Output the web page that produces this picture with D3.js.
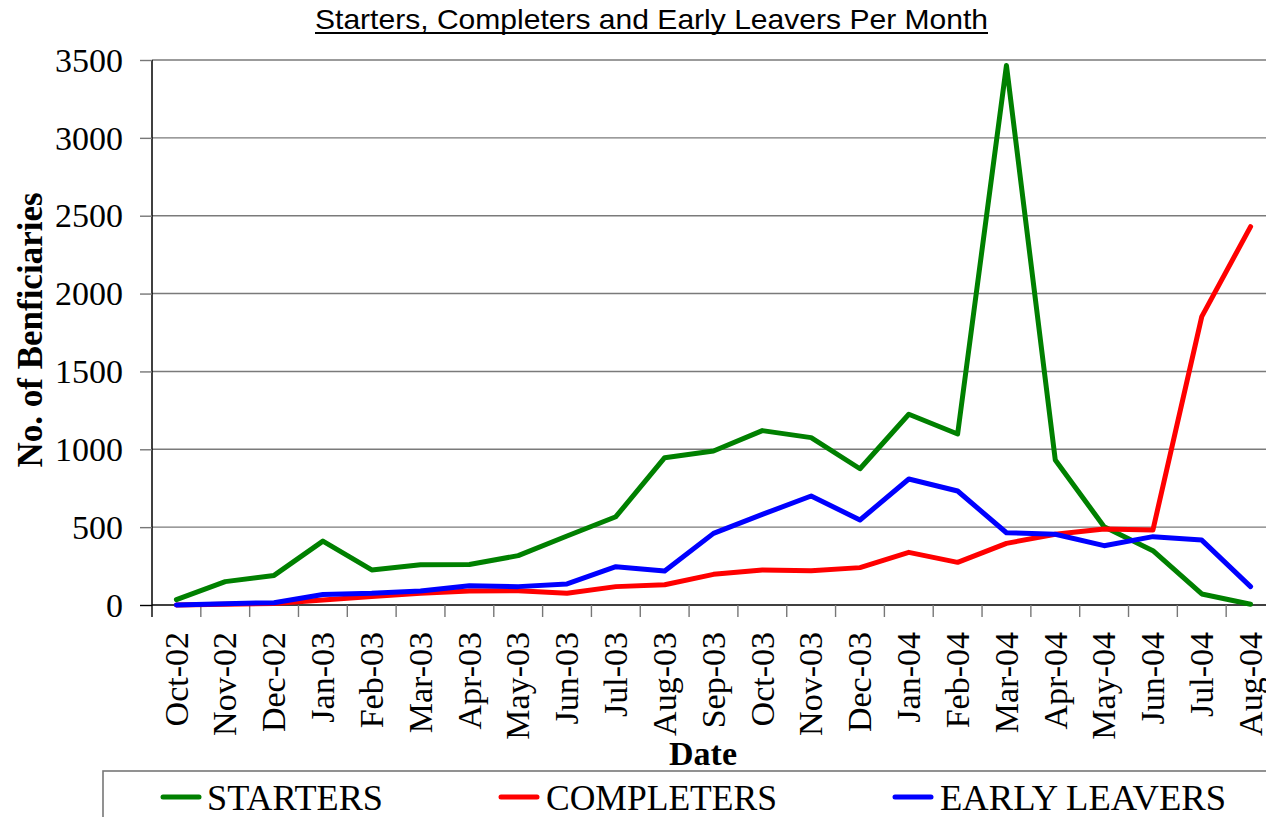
<!DOCTYPE html>
<html>
<head>
<meta charset="utf-8">
<script src="https://cdn.jsdelivr.net/npm/d3@7"></script>
<style>
  html, body { margin: 0; padding: 0; background: #fff; }
  svg { display: block; }
</style>
</head>
<body>
<svg id="chart" width="1266" height="817"></svg>
<script>
const categories = ["Oct-02","Nov-02","Dec-02","Jan-03","Feb-03","Mar-03","Apr-03","May-03","Jun-03","Jul-03","Aug-03","Sep-03","Oct-03","Nov-03","Dec-03","Jan-04","Feb-04","Mar-04","Apr-04","May-04","Jun-04","Jul-04","Aug-04"];
const starters    = [35, 150, 190, 410, 225, 258, 260, 317, 443, 567, 946, 989, 1120, 1075, 875, 1225, 1098, 3465, 931, 503, 349, 71, 5];
const completers  = [0, 5, 10, 32, 55, 75, 90, 92, 75, 118, 130, 197, 225, 220, 240, 338, 274, 396, 454, 488, 482, 1852, 2430];
const earlyLeavers= [0, 8, 15, 68, 75, 90, 124, 118, 135, 246, 218, 460, 582, 700, 546, 809, 732, 464, 454, 381, 439, 417, 118];
const yTicks = [0, 500, 1000, 1500, 2000, 2500, 3000, 3500];
const seriesNames = ["STARTERS", "COMPLETERS", "EARLY LEAVERS"];
const seriesColors = ["#008000", "#ff0000", "#0000ff"];
const titleText = "Starters, Completers and Early Leavers Per Month";
const yTitle = "No. of Benficiaries";
const xTitle = "Date";

const svg = d3.select("#chart");
const serif = "'Liberation Serif','Times New Roman',Times,serif";
const sans = "'Liberation Sans',Arial,Helvetica,sans-serif";

const pLeft = 152, pRight = 1275, pTop = 60, pBottom = 605;
const x = d3.scaleBand().domain(categories).range([pLeft, pRight]).paddingInner(0).paddingOuter(0);
const y = d3.scaleLinear().domain([0, 3500]).range([pBottom, pTop]);

// gridlines
svg.append("g").selectAll("line").data(yTicks.filter(d => d > 0)).join("line")
  .attr("x1", pLeft).attr("x2", 1266)
  .attr("y1", d => y(d)).attr("y2", d => y(d))
  .attr("stroke", "#7a7a7a").attr("stroke-width", 1.4);

// y axis
const yAxis = svg.append("g").attr("transform", `translate(${pLeft},0)`)
  .call(d3.axisLeft(y).tickValues(yTicks).tickSize(12).tickPadding(17).tickFormat(d3.format("d")));
yAxis.select(".domain").attr("stroke", "#000").attr("stroke-width", 1.5).attr("d", `M0,${pTop}V${pBottom}`);
yAxis.selectAll(".tick line").attr("stroke", "#777").attr("stroke-width", 1.4);
yAxis.selectAll(".tick").filter(d => d === 0).select("line").attr("stroke", "#000");
yAxis.selectAll("text").attr("font-family", serif).attr("font-size", 34).attr("fill", "#000").attr("dy", "0.33em");

// x axis line
svg.append("line").attr("x1", pLeft).attr("x2", 1266).attr("y1", pBottom).attr("y2", pBottom)
  .attr("stroke", "#000").attr("stroke-width", 1.5);
// boundary ticks
const bounds = categories.map(c => x(c)).concat([x.range()[1]]);
svg.append("g").selectAll("line").data(bounds).join("line")
  .attr("x1", d => d).attr("x2", d => d).attr("y1", pBottom).attr("y2", pBottom + 12)
  .attr("stroke", (d, i) => i === 0 ? "#000" : "#777").attr("stroke-width", 1.4);
// x labels
svg.append("g").selectAll("text").data(categories).join("text")
  .attr("transform", d => `translate(${x(d) + x.bandwidth() / 2},632) rotate(-90)`)
  .attr("text-anchor", "end").attr("dy", "0.33em")
  .attr("font-family", serif).attr("font-size", 34).attr("fill", "#000")
  .text(d => d);

// lines
const seriesData = [starters, completers, earlyLeavers];
const line = d3.line().x((d, i) => x(categories[i]) + x.bandwidth() / 2).y(d => y(d));
svg.append("g").selectAll("path").data(seriesData).join("path")
  .attr("d", d => line(d)).attr("fill", "none")
  .attr("stroke", (d, i) => seriesColors[i]).attr("stroke-width", 5)
  .attr("stroke-linejoin", "round").attr("stroke-linecap", "round");

// title
svg.append("text").attr("x", 651.5).attr("y", 29).attr("text-anchor", "middle")
  .attr("font-family", sans).attr("font-size", 28).attr("fill", "#000")
  .attr("textLength", 673).attr("lengthAdjust", "spacingAndGlyphs")
  .text(titleText);
svg.append("line").attr("x1", 315).attr("x2", 988).attr("y1", 33).attr("y2", 33)
  .attr("stroke", "#000").attr("stroke-width", 2);

// axis titles
svg.append("text").attr("transform", "translate(30,330) rotate(-90)")
  .attr("text-anchor", "middle").attr("dy", "0.35em")
  .attr("font-family", serif).attr("font-weight", "bold").attr("font-size", 35).attr("fill", "#000")
  .text(yTitle);
svg.append("text").attr("x", 703).attr("y", 765).attr("text-anchor", "middle")
  .attr("font-family", serif).attr("font-weight", "bold").attr("font-size", 34).attr("fill", "#000")
  .text(xTitle);

// legend
svg.append("rect").attr("x", 103).attr("y", 771).attr("width", 1200).attr("height", 80)
  .attr("fill", "none").attr("stroke", "#777").attr("stroke-width", 1.6);
const legendPos = [{l: 163, t: 207, w: 176}, {l: 501, t: 546, w: 231}, {l: 895, t: 940, w: 286}];
const lg = svg.append("g").selectAll("g").data(seriesNames).join("g");
lg.append("line")
  .attr("x1", (d, i) => legendPos[i].l).attr("x2", (d, i) => legendPos[i].l + 36)
  .attr("y1", 797).attr("y2", 797)
  .attr("stroke", (d, i) => seriesColors[i]).attr("stroke-width", 5).attr("stroke-linecap", "round");
lg.append("text")
  .attr("x", (d, i) => legendPos[i].t).attr("y", 810)
  .attr("font-family", serif).attr("font-size", 35).attr("fill", "#000")
  .attr("textLength", (d, i) => legendPos[i].w).attr("lengthAdjust", "spacingAndGlyphs")
  .text(d => d);
</script>
</body>
</html>
